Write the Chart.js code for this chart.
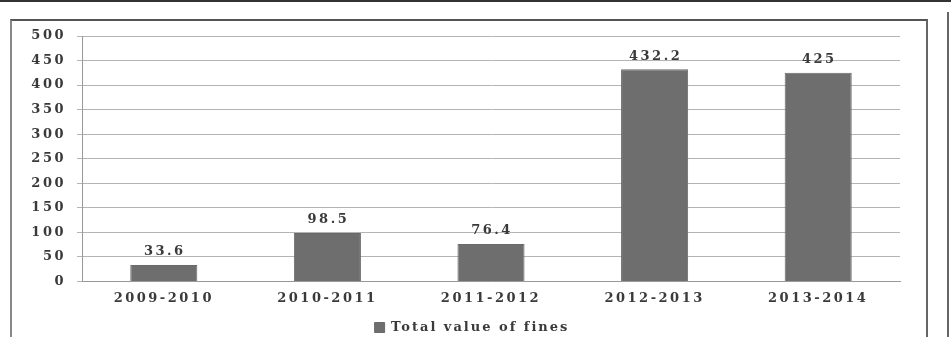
<!DOCTYPE html>
<html>
<head>
<meta charset="utf-8">
<script src="https://cdn.jsdelivr.net/npm/chart.js@4"></script>
<style>
  body { margin: 0; background: #fff; }
  #wrap { position: relative; width: 951px; height: 337px; overflow: hidden; }
  #topline { position: absolute; left: 0; top: 0; width: 951px; height: 2px; background: #333; }
  #frame { position: absolute; left: 10px; top: 19px; width: 914px; height: 330px;
           border-top: 2px solid #555; border-left: 2px solid #888; border-right: 2px solid #666; }
  #rline { position: absolute; left: 947px; top: 12px; width: 2px; height: 330px; background: #666; }
  canvas { position: absolute; left: 0; top: 0; }
</style>
</head>
<body>
<div id="wrap">
  <div id="topline"></div>
  <div id="frame"></div>
  <div id="rline"></div>
  <canvas id="barchart" width="951" height="348"></canvas>
</div>
<script>
var categories = ['2009-2010', '2010-2011', '2011-2012', '2012-2013', '2013-2014'];
var fines = [33.6, 98.5, 76.4, 432.2, 425];
var valueLabels = ['33.6', '98.5', '76.4', '432.2', '425'];
var seriesName = 'Total value of fines';

document.addEventListener('DOMContentLoaded', function () {
  var serif = '"DejaVu Serif", serif';
  var spacing = '2.5px';
  var legendSpacing = '2px';
  var textColor = '#3a3a3a';

  // teks gambar asli terlihat renggang
  var spacingPlugin = {
    id: 'spacing',
    beforeLayout: function (chart) { chart.ctx.letterSpacing = spacing; },
    beforeDraw: function (chart) { chart.ctx.letterSpacing = spacing; }
  };

  // etiket nilai di atas batang
  var labelPlugin = {
    id: 'valueLabels',
    afterDatasetsDraw: function (chart) {
      var ctx = chart.ctx;
      var meta = chart.getDatasetMeta(0);
      ctx.save();
      ctx.font = 'bold 13px ' + serif;
      ctx.letterSpacing = spacing;
      ctx.fillStyle = textColor;
      ctx.textAlign = 'center';
      ctx.textBaseline = 'middle';
      meta.data.forEach(function (bar, i) {
        ctx.fillText(valueLabels[i], bar.x + 1, bar.y - 13);
      });
      ctx.restore();
    }
  };

  var config = {
    type: 'bar',
    data: {
      labels: categories,
      datasets: [{
        label: seriesName,
        data: fines,
        backgroundColor: '#6e6e6e',
        borderColor: '#6a6a6a',
        borderWidth: 1,
        categoryPercentage: 1,
        barPercentage: 0.41
      }]
    },
    options: {
      responsive: false,
      animation: false,
      layout: { padding: { left: 0, right: 51, top: 36, bottom: 4 } },
      plugins: {
        tooltip: { enabled: false },
        legend: {
          position: 'bottom',
          labels: {
            boxWidth: 10,
            boxHeight: 10,
            padding: 6,
            color: textColor,
            font: { family: serif, size: 13, weight: 'bold' }
          }
        }
      },
      scales: {
        x: {
          grid: { display: false, drawTicks: false },
          border: { color: '#999' },
          ticks: {
            color: textColor,
            padding: 9,
            font: { family: serif, size: 13, weight: 'bold' }
          }
        },
        y: {
          min: 0,
          max: 500,
          afterFit: function (scale) { scale.width = 82; },
          grid: { color: '#b4b4b4', tickLength: 5 },
          border: { color: '#999' },
          ticks: {
            stepSize: 50,
            color: textColor,
            padding: 11,
            font: { family: serif, size: 13, weight: 'bold' }
          }
        }
      }
    },
    plugins: [spacingPlugin, labelPlugin]
  };

  var ctx = document.getElementById('barchart').getContext('2d');
  var chart = new Chart(ctx, config);

  // legenda: jarak huruf lebih rapat dan sedikit ke kanan
  var legend = chart.legend;
  var origFit = legend.fit;
  legend.fit = function () {
    chart.ctx.letterSpacing = legendSpacing;
    var r = origFit.apply(this, arguments);
    chart.ctx.letterSpacing = spacing;
    return r;
  };
  var origDraw = legend.draw;
  legend.draw = function () {
    var c = chart.ctx;
    c.save();
    c.translate(22, 0);
    c.letterSpacing = legendSpacing;
    var r = origDraw.apply(this, arguments);
    c.restore();
    c.letterSpacing = spacing;
    return r;
  };
  chart.update();
});
</script>
</body>
</html>
